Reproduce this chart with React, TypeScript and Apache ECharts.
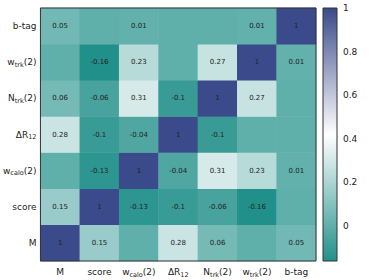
import React, { useEffect, useRef } from "react";
import * as echarts from "echarts";

const categories = ["M", "score", "wcalo", "dR12", "Ntrk", "wtrk", "btag"];
const categoryLabels = [
  "{n|M}",
  "{n|score}",
  "{n|w}{s|calo}{n|(2)}",
  "{n|ΔR}{s|12}",
  "{n|N}{s|trk}{n|(2)}",
  "{n|w}{s|trk}{n|(2)}",
  "{n|b-tag}",
];
// correlation matrix, rows/cols in category order (bottom-to-top / left-to-right)
const matrix: number[][] = [
  [1, 0.15, 0, 0.28, 0.06, 0, 0.05],
  [0.15, 1, -0.13, -0.1, -0.06, -0.16, 0],
  [0, -0.13, 1, -0.04, 0.31, 0.23, 0.01],
  [0.28, -0.1, -0.04, 1, -0.1, 0, 0],
  [0.06, -0.06, 0.31, -0.1, 1, 0.27, 0],
  [0, -0.16, 0.23, 0, 0.27, 1, 0.01],
  [0.05, 0, 0.01, 0, 0, 0.01, 1],
];
const colorbarTicks = [0, 0.2, 0.4, 0.6, 0.8, 1];
const vMin = -0.16;
const vMax = 1;

const TEAL = "#22908a";
const NAVY = "#3a4a8a";
const FONT = "DejaVu Sans";

export default function App() {
  const ref = useRef<HTMLDivElement>(null);
  useEffect(() => {
    if (!ref.current) return;
    const chart = echarts.init(ref.current, undefined, { renderer: "svg" });
    const data: number[][] = [];
    matrix.forEach((row, yi) => row.forEach((v, xi) => data.push([xi, yi, v])));
    const rich = {
      n: { fontSize: 9, lineHeight: 12, fontFamily: FONT, color: "#222" },
      s: {
        fontSize: 6.5,
        lineHeight: 6,
        padding: [6, 0, 0, 0],
        verticalAlign: "bottom",
        fontFamily: FONT,
        color: "#222",
      },
    };
    chart.setOption({
      animation: false,
      textStyle: { fontFamily: FONT },
      grid: [
        {
          left: 38,
          top: 8,
          width: 278,
          height: 253,
          show: true,
          borderColor: "#333",
          borderWidth: 1,
          backgroundColor: "transparent",
          z: 3,
        },
        {
          left: 323,
          top: 8,
          width: 14,
          height: 253,
          show: true,
          borderColor: "#333",
          borderWidth: 1,
          backgroundColor: new echarts.graphic.LinearGradient(0, 1, 0, 0, [
            { offset: 0, color: TEAL },
            { offset: 0.5, color: "#ffffff" },
            { offset: 1, color: NAVY },
          ]),
        },
      ],
      xAxis: [
        {
          type: "category",
          gridIndex: 0,
          data: categories,
          axisLine: { show: false },
          axisTick: { show: false },
          splitLine: { show: false },
          axisLabel: {
            interval: 0,
            hideOverlap: false,
            margin: 5,
            formatter: (_v: string, i: number) => categoryLabels[i],
            rich,
          },
        },
        {
          type: "category",
          gridIndex: 1,
          data: [""],
          show: false,
        },
      ],
      yAxis: [
        {
          type: "category",
          gridIndex: 0,
          data: categories,
          axisLine: { show: false },
          axisTick: { show: false },
          splitLine: { show: false },
          axisLabel: {
            interval: 0,
            margin: 4,
            formatter: (_v: string, i: number) => categoryLabels[i],
            rich,
          },
        },
        {
          type: "value",
          gridIndex: 1,
          min: vMin,
          max: vMax,
          position: "right",
          axisLine: { show: false },
          axisTick: { show: false },
          splitLine: { show: false },
          axisLabel: {
            customValues: colorbarTicks,
            margin: 6,
            fontSize: 9,
            color: "#222",
            fontFamily: FONT,
            formatter: (v: number) => String(Math.round(v * 10) / 10),
          },
        },
      ],
      visualMap: {
        show: false,
        min: vMin,
        max: vMax,
        seriesIndex: 0,
        inRange: { color: [TEAL, "#ffffff", NAVY] },
      },
      series: [
        {
          type: "heatmap",
          xAxisIndex: 0,
          yAxisIndex: 0,
          data,
          label: {
            show: true,
            fontSize: 7,
            color: "#222",
            fontFamily: FONT,
            formatter: (p: any) => (p.value[2] === 0 ? "" : String(p.value[2])),
          },
          emphasis: { disabled: true },
        },
      ],
    });
    return () => chart.dispose();
  }, []);
  return <div ref={ref} style={{ width: 374, height: 280, position: "absolute", left: 0, top: 0 }} />;
}
